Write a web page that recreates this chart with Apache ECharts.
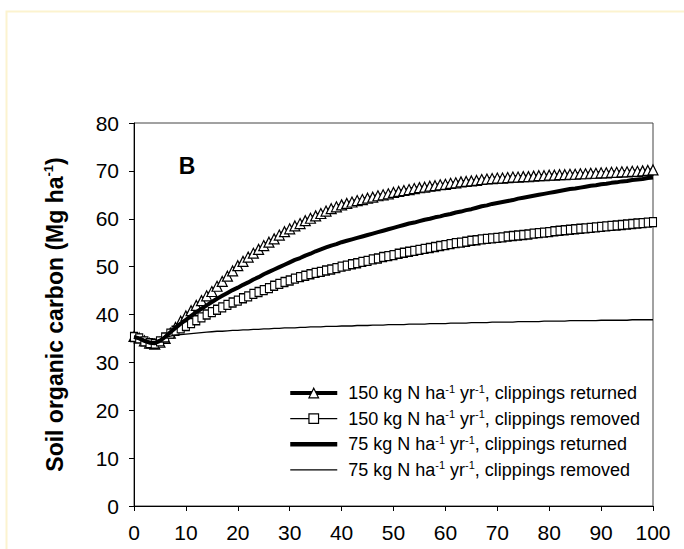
<!DOCTYPE html>
<html>
<head>
<meta charset="utf-8">
<script src="https://cdn.jsdelivr.net/npm/echarts@6/dist/echarts.min.js"></script>
<style>
html,body{margin:0;padding:0;background:#fff;}
#chart{width:684px;height:549px;}
</style>
</head>
<body>
<div id="chart"></div>
<script>
// ---- data (years 0..100) ----
const years = Array.from({length: 101}, (_, i) => i);

const xTicks = [0, 10, 20, 30, 40, 50, 60, 70, 80, 90, 100];
const yTicks = [0, 10, 20, 30, 40, 50, 60, 70, 80];

const seriesNames = [
  '150 kg N ha-1 yr-1, clippings returned',
  '150 kg N ha-1 yr-1, clippings removed',
  '75 kg N ha-1 yr-1, clippings returned',
  '75 kg N ha-1 yr-1, clippings removed'
];

// 150 kg N, clippings returned (triangles)
const n150Returned = [
  35.4, 35.1, 34.5, 34.0, 33.8, 34.2, 35.0, 36.1, 37.3, 38.6,
  39.7, 40.8, 41.9, 42.9, 43.9, 44.8, 45.9, 46.9, 48.0, 49.1,
  50.2, 51.1, 52.0, 52.8, 53.6, 54.4, 55.1, 55.8, 56.6, 57.3,
  57.9, 58.5, 59.0, 59.6, 60.1, 60.6, 61.1, 61.6, 62.1, 62.5,
  62.9, 63.2, 63.5, 63.8, 64.0, 64.3, 64.5, 64.8, 65.0, 65.2,
  65.5, 65.7, 65.9, 66.1, 66.3, 66.5, 66.6, 66.8, 66.9, 67.1,
  67.2, 67.4, 67.5, 67.7, 67.8, 67.9, 68.0, 68.2, 68.3, 68.4,
  68.5, 68.5, 68.6, 68.7, 68.7, 68.8, 68.8, 68.9, 69.0, 69.0,
  69.1, 69.1, 69.2, 69.2, 69.3, 69.3, 69.4, 69.4, 69.5, 69.5,
  69.6, 69.6, 69.7, 69.7, 69.8, 69.8, 69.9, 69.9, 70.0, 70.1,
  70.2
];

// 150 kg N, clippings removed (squares)
const n150Removed = [
  35.3, 35.0, 34.4, 34.0, 33.9, 34.4, 35.2, 36.0, 36.6, 37.1,
  37.6, 38.2, 38.8, 39.4, 40.0, 40.5, 41.0, 41.5, 42.0, 42.5,
  42.9, 43.4, 43.8, 44.3, 44.7, 45.1, 45.5, 46.0, 46.4, 46.8,
  47.1, 47.5, 47.8, 48.1, 48.4, 48.7, 48.9, 49.2, 49.4, 49.7,
  50.0, 50.2, 50.5, 50.7, 51.0, 51.2, 51.5, 51.7, 52.0, 52.2,
  52.4, 52.7, 52.9, 53.1, 53.3, 53.5, 53.7, 53.9, 54.1, 54.3,
  54.5, 54.7, 54.9, 55.0, 55.2, 55.4, 55.5, 55.7, 55.8, 55.9,
  56.0, 56.1, 56.3, 56.4, 56.5, 56.6, 56.7, 56.9, 57.0, 57.1,
  57.2, 57.4, 57.5, 57.6, 57.7, 57.8, 57.9, 58.0, 58.1, 58.2,
  58.3, 58.4, 58.5, 58.6, 58.7, 58.8, 58.9, 59.0, 59.1, 59.2,
  59.3
];

// 75 kg N, clippings returned (thick line)
const n75Returned = [
  35.3, 35.0, 34.5, 34.1, 34.0, 34.5, 35.3, 36.3, 37.2, 38.1,
  38.9, 39.7, 40.5, 41.2, 41.9, 42.6, 43.3, 43.9, 44.5, 45.1,
  45.6, 46.2, 46.7, 47.3, 47.8, 48.4, 48.9, 49.4, 49.9, 50.4,
  50.9, 51.4, 51.8, 52.3, 52.7, 53.2, 53.6, 54.0, 54.4, 54.7,
  55.1, 55.4, 55.7, 56.0, 56.3, 56.6, 56.9, 57.2, 57.5, 57.8,
  58.1, 58.4, 58.7, 59.0, 59.2, 59.5, 59.8, 60.0, 60.3, 60.5,
  60.8, 61.0, 61.3, 61.5, 61.8, 62.0, 62.3, 62.6, 62.8, 63.1,
  63.3, 63.5, 63.7, 63.9, 64.2, 64.4, 64.6, 64.8, 65.0, 65.2,
  65.4, 65.6, 65.8, 66.0, 66.2, 66.3, 66.5, 66.7, 66.9, 67.0,
  67.2, 67.3, 67.5, 67.6, 67.8, 67.9, 68.1, 68.2, 68.3, 68.5,
  68.6
];

// 75 kg N, clippings removed (thin line)
const n75Removed = [
  35.5, 35.2, 34.7, 34.4, 34.4, 34.8, 35.2, 35.5, 35.7, 35.8,
  35.9, 36.0, 36.1, 36.2, 36.3, 36.4, 36.5, 36.5, 36.6, 36.7,
  36.7, 36.8, 36.8, 36.9, 36.9, 37.0, 37.0, 37.1, 37.1, 37.2,
  37.2, 37.2, 37.3, 37.3, 37.4, 37.4, 37.4, 37.5, 37.5, 37.5,
  37.6, 37.6, 37.6, 37.7, 37.7, 37.7, 37.8, 37.8, 37.8, 37.9,
  37.9, 37.9, 37.9, 38.0, 38.0, 38.0, 38.0, 38.1, 38.1, 38.1,
  38.1, 38.2, 38.2, 38.2, 38.2, 38.3, 38.3, 38.3, 38.3, 38.4,
  38.4, 38.4, 38.4, 38.4, 38.5, 38.5, 38.5, 38.5, 38.5, 38.6,
  38.6, 38.6, 38.6, 38.6, 38.7, 38.7, 38.7, 38.7, 38.7, 38.7,
  38.8, 38.8, 38.8, 38.8, 38.8, 38.8, 38.9, 38.9, 38.9, 38.9,
  38.9
];

const yAxisTitle = 'Soil organic carbon (Mg ha{sup|-1})';
const panelLabel = 'B';

// ---- chart ----
const FONT = '"Liberation Sans", Arial, Helvetica, sans-serif';
const pairs = (vals) => years.map((y, i) => [y, vals[i]]);

const chart = echarts.init(document.getElementById('chart'), null, {renderer: 'svg'});

const hidden = {color: 'rgba(0,0,0,0)', borderColor: 'rgba(0,0,0,0)', borderWidth: 0};

const option = {
  animation: false,
  backgroundColor: '#ffffff',
  textStyle: {fontFamily: FONT, color: '#000'},
  grid: {
    left: 134, right: 31, top: 123, bottom: 43,
    show: true, borderColor: '#444', borderWidth: 1, backgroundColor: 'transparent'
  },
  xAxis: {
    type: 'value', min: 0, max: 100, interval: 10,
    axisLine: {show: true, onZero: false, lineStyle: {color: '#000', width: 1}},
    axisTick: {show: true, inside: false, length: 5, lineStyle: {color: '#000'}},
    axisLabel: {
      fontSize: 21, color: '#000', fontFamily: FONT, margin: 16,
      formatter: (v) => xTicks.includes(v) ? String(v) : ''
    },
    splitLine: {show: false}
  },
  yAxis: {
    type: 'value', min: 0, max: 80, interval: 10,
    name: yAxisTitle,
    nameLocation: 'middle',
    nameGap: 66,
    nameTextStyle: {
      fontSize: 23, fontWeight: 'bold', color: '#000', fontFamily: FONT,
      rich: {
        sup: {fontSize: 13, fontWeight: 'bold', color: '#000', fontFamily: FONT, verticalAlign: 'top', lineHeight: 26}
      }
    },
    axisLine: {show: true, onZero: false, lineStyle: {color: '#000', width: 1}},
    axisTick: {show: true, inside: false, length: 5, lineStyle: {color: '#000'}},
    axisLabel: {
      fontSize: 21, color: '#000', fontFamily: FONT, margin: 15,
      formatter: (v) => yTicks.includes(v) ? String(v) : ''
    },
    splitLine: {show: false}
  },
  legend: {
    show: true,
    orient: 'vertical',
    left: 288,
    top: 383,
    itemWidth: 47,
    itemHeight: 12,
    itemGap: 5.6,
    padding: 0,
    data: [
      {name: seriesNames[0], lineStyle: {width: 4, color: '#000'}, itemStyle: {color: '#fff', borderColor: '#000', borderWidth: 1.2}},
      {name: seriesNames[1], lineStyle: {width: 1.3, color: '#000'}, itemStyle: {color: '#fff', borderColor: '#000', borderWidth: 1.2}},
      {name: seriesNames[2], lineStyle: {width: 4.5, color: '#000'}, itemStyle: hidden},
      {name: seriesNames[3], lineStyle: {width: 1.3, color: '#000'}, itemStyle: hidden}
    ],
    formatter: (name) => name.replace(/-1/g, '{sup|-1}'),
    textStyle: {
      fontSize: 18, color: '#000', fontFamily: FONT, lineHeight: 20,
      padding: [0, 0, 0, 6],
      rich: {
        sup: {fontSize: 11, color: '#000', fontFamily: FONT, verticalAlign: 'top', lineHeight: 20}
      }
    }
  },
  graphic: [
    {
      type: 'rect', silent: true, z: -10,
      shape: {x: 6.5, y: 11.5, width: 720, height: 600},
      style: {fill: 'none', stroke: '#fcf3cf', lineWidth: 2}
    },
    {
      type: 'text', silent: true,
      x: 187, y: 166,
      style: {
        text: panelLabel, fill: '#000',
        font: 'bold 23px ' + FONT,
        textAlign: 'center', textVerticalAlign: 'middle'
      }
    }
  ],
  series: [
    {
      name: seriesNames[0], type: 'line', data: pairs(n150Returned),
      symbol: 'triangle', symbolSize: 10, showSymbol: true,
      lineStyle: {color: '#000', width: 3.5},
      itemStyle: {color: '#fff', borderColor: '#000', borderWidth: 1.2},
      z: 2
    },
    {
      name: seriesNames[1], type: 'line', data: pairs(n150Removed),
      symbol: 'rect', symbolSize: [7, 9], showSymbol: true,
      lineStyle: {color: '#000', width: 1.2},
      itemStyle: {color: '#fff', borderColor: '#000', borderWidth: 1.2},
      z: 3
    },
    {
      name: seriesNames[2], type: 'line', data: pairs(n75Returned),
      symbol: 'none', showSymbol: false,
      lineStyle: {color: '#000', width: 4},
      itemStyle: {color: '#000'},
      z: 4
    },
    {
      name: seriesNames[3], type: 'line', data: pairs(n75Removed),
      symbol: 'none', showSymbol: false,
      lineStyle: {color: '#000', width: 1.3},
      itemStyle: {color: '#000'},
      z: 5
    }
  ]
};

chart.setOption(option);
</script>
</body>
</html>
